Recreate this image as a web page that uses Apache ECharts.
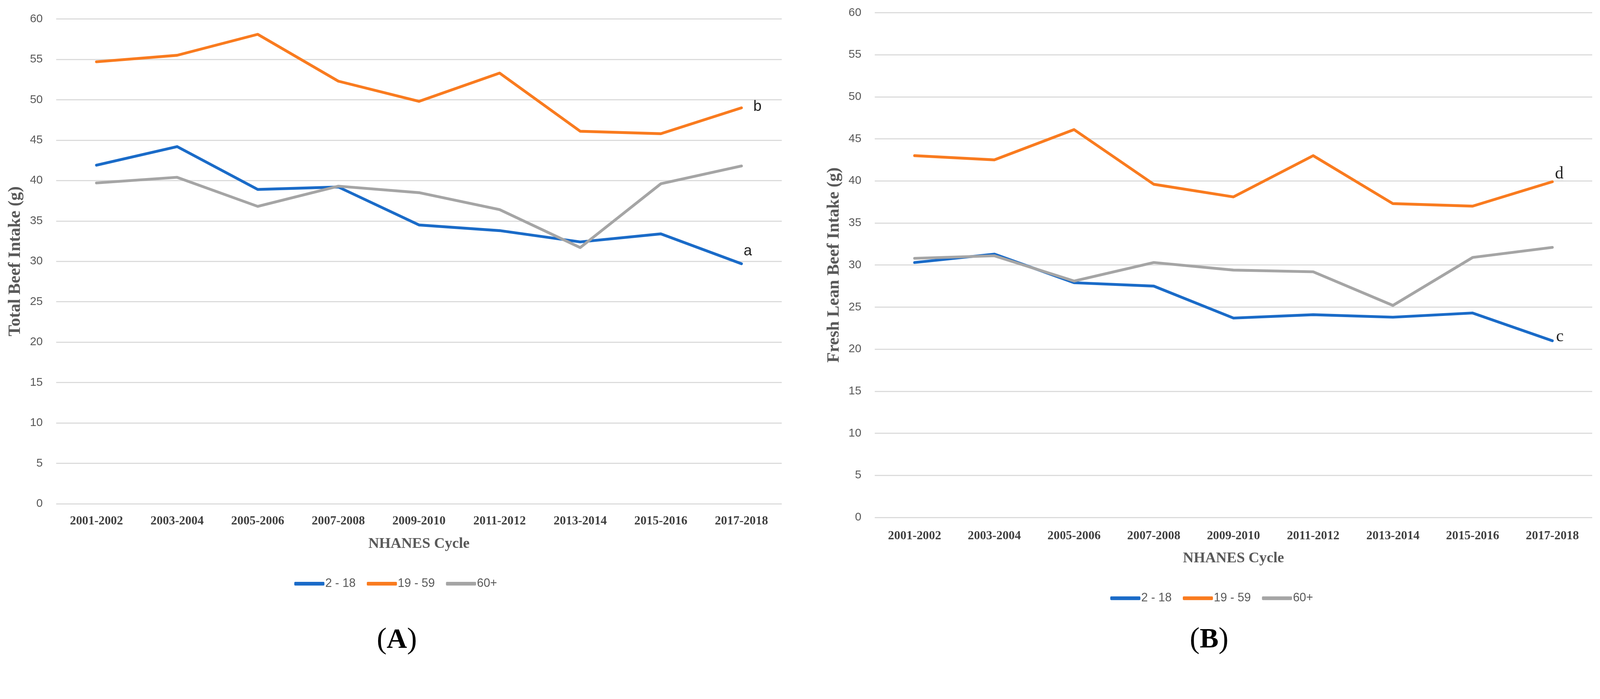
<!DOCTYPE html>
<html>
<head>
<meta charset="utf-8">
<script src="https://cdn.jsdelivr.net/npm/echarts@6/dist/echarts.min.js"></script>
<style>
  html, body { margin: 0; padding: 0; background: #ffffff; overflow: hidden; }
  #chart { position: absolute; left: 0; top: 0; }
</style>
</head>
<body>
<div id="chart"></div>
<script>
// ---- data ----
const categories = ['2001-2002','2003-2004','2005-2006','2007-2008','2009-2010','2011-2012','2013-2014','2015-2016','2017-2018'];
const seriesNames = ['2 - 18', '19 - 59', '60+'];

// Panel A: Total Beef Intake (g)
const totalKids   = [41.9, 44.2, 38.9, 39.2, 34.5, 33.8, 32.4, 33.4, 29.7];
const totalAdults = [54.7, 55.5, 58.1, 52.3, 49.8, 53.3, 46.1, 45.8, 49.0];
const totalOlder  = [39.7, 40.4, 36.8, 39.3, 38.5, 36.4, 31.7, 39.6, 41.8];

// Panel B: Fresh Lean Beef Intake (g)
const leanKids   = [30.3, 31.3, 27.9, 27.5, 23.7, 24.1, 23.8, 24.3, 21.0];
const leanAdults = [43.0, 42.5, 46.1, 39.6, 38.1, 43.0, 37.3, 37.0, 39.9];
const leanOlder  = [30.8, 31.1, 28.1, 30.3, 29.4, 29.2, 25.2, 30.9, 32.1];

const letterA = { kids: 'a', adults: 'b' };
const letterB = { kids: 'c', adults: 'd' };

// ---- layout scale (design space 4302 x 1790) ----
const W0 = 4302, H0 = 1790;
const vw = window.innerWidth || W0, vh = window.innerHeight || H0;
const k = Math.min(vw / W0, vh / H0);
const S = v => v * k;
const el = document.getElementById('chart');
el.style.width = (W0 * k) + 'px';
el.style.height = (H0 * k) + 'px';

// ---- styles ----
const COLORS = ['#1A6BC8', '#F97B1F', '#A5A5A5'];
const GRID_COLOR = '#DCDCDC';
const SANS = 'Liberation Sans, Arial, sans-serif';
const SERIF = 'Liberation Serif, Times New Roman, serif';

function xAxisCfg(gridIndex, margin, nameGap) {
  return {
    type: 'category', gridIndex: gridIndex, data: categories, boundaryGap: true,
    axisLine: { show: false }, axisTick: { show: false },
    axisLabel: { interval: 0, margin: S(margin), fontFamily: SERIF, fontWeight: 'bold', fontSize: S(33), color: '#404040' },
    name: 'NHANES Cycle', nameLocation: 'middle', nameGap: S(nameGap),
    nameTextStyle: { fontFamily: SERIF, fontWeight: 'bold', fontSize: S(40), color: '#595959' }
  };
}
function yAxisCfg(gridIndex, name) {
  return {
    type: 'value', gridIndex: gridIndex, min: 0, max: 60, interval: 5,
    axisLine: { show: false }, axisTick: { show: false },
    splitLine: { show: true, lineStyle: { color: GRID_COLOR, width: S(3) } },
    axisLabel: { margin: S(36), fontFamily: SANS, fontSize: S(31), color: '#595959' },
    name: name, nameLocation: 'middle', nameGap: S(86), nameRotate: 90,
    nameTextStyle: { fontFamily: SERIF, fontWeight: 'bold', fontSize: S(46), color: '#595959' }
  };
}
function lineSeries(name, data, idx, color, endLabel) {
  const s = {
    name: name, type: 'line', data: data, xAxisIndex: idx, yAxisIndex: idx,
    showSymbol: false, symbol: 'none', smooth: false,
    lineStyle: { color: color, width: S(7.5), cap: 'round', join: 'round' },
    itemStyle: { color: color },
    emphasis: { disabled: true }
  };
  if (endLabel) s.endLabel = endLabel;
  return s;
}
function legendCfg(left, top) {
  return {
    left: S(left), top: S(top), orient: 'horizontal', data: seriesNames, selectedMode: false,
    icon: 'roundRect', itemWidth: S(81), itemHeight: S(10), itemGap: S(30),
    textStyle: { fontFamily: SANS, fontSize: S(32), color: '#595959', padding: [0, 0, 0, -S(3)] }
  };
}
function endLbl(text, distance, dy, family, size) {
  return { show: true, formatter: text, distance: S(distance), offset: [0, S(dy)],
           fontFamily: family, fontSize: S(size), color: '#222222' };
}
function caption(letter, cx, cy) {
  return { type: 'text', left: S(cx - 55), top: S(cy - 45),
    style: { text: '{p|(}{b|' + letter + '}{p|)}', rich: {
      p: { fontFamily: SERIF, fontSize: S(80), color: '#000' },
      b: { fontFamily: SERIF, fontSize: S(76), fontWeight: 'bold', color: '#000' } } } };
}

const option = {
  backgroundColor: '#ffffff',
  animation: false,
  color: COLORS,
  grid: [
    { left: S(151), right: S(W0 - 2102), top: S(51), bottom: S(H0 - 1355), containLabel: false, outerBoundsMode: 'none' },
    { left: S(2352), right: S(W0 - 4281), top: S(34), bottom: S(H0 - 1392), containLabel: false, outerBoundsMode: 'none' }
  ],
  xAxis: [ xAxisCfg(0, 31, 89), xAxisCfg(1, 34, 90) ],
  yAxis: [ yAxisCfg(0, 'Total Beef Intake (g)'), yAxisCfg(1, 'Fresh Lean Beef Intake (g)') ],
  legend: [ legendCfg(786, 1549), legendCfg(2980, 1588) ],
  series: [
    lineSeries(seriesNames[0], totalKids, 0, COLORS[0], endLbl(letterA.kids, 6, -34, SANS, 40)),
    lineSeries(seriesNames[1], totalAdults, 0, COLORS[1], endLbl(letterA.adults, 32, -3, SANS, 40)),
    lineSeries(seriesNames[2], totalOlder, 0, COLORS[2]),
    lineSeries(seriesNames[0], leanKids, 1, COLORS[0], endLbl(letterB.kids, 10, -11, SERIF, 46)),
    lineSeries(seriesNames[1], leanAdults, 1, COLORS[1], endLbl(letterB.adults, 7, -21, SERIF, 46)),
    lineSeries(seriesNames[2], leanOlder, 1, COLORS[2])
  ],
  graphic: [ caption('A', 1068, 1728), caption('B', 3254, 1727) ]
};

const chart = echarts.init(el, null, { renderer: 'canvas' });
chart.setOption(option);
</script>
</body>
</html>
